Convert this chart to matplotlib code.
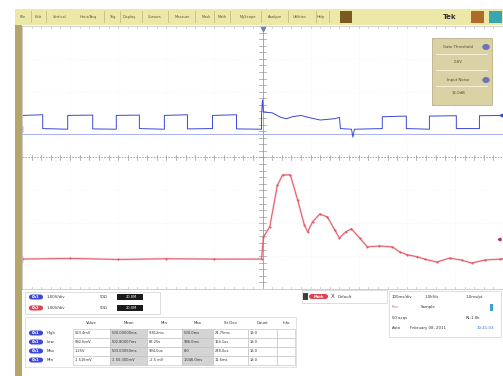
"""
Tek scope screenshot: Ch1 (blue) clock-like square wave, Ch2 (red) ringing response
after the trigger, with the measurement table along the bottom.
"""

import matplotlib
import matplotlib.pyplot as plt
from matplotlib.patches import Rectangle, FancyBboxPatch

matplotlib.use("Agg")

W, H = 503, 376

# ---- waveform data, in graticule divisions (x: -5..5, y: -4..4) ----
ch1_t = [-5.00, -4.57, -4.57, -4.05, -4.05, -3.53, -3.53, -3.04, -3.04, -2.56,
         -2.56, -2.04, -2.04, -1.56, -1.56, -1.04, -1.04, -0.54, -0.54, -0.02,
         -0.02, 0.00, 0.02, 0.20, 0.38, 0.50, 0.62, 0.80, 0.95, 1.20, 1.50,
         1.60, 1.62, 1.85, 1.88, 1.91, 2.49, 2.49, 2.99, 2.99, 3.47, 3.47,
         4.03, 4.03, 4.51, 4.51, 5.00]
ch1_v = [1.28, 1.30, 0.88, 0.86, 1.28, 1.29, 0.87, 0.86, 1.28, 1.29,
         0.88, 0.86, 1.28, 1.30, 0.87, 0.88, 1.28, 1.30, 0.87, 0.86,
         1.30, 1.75, 1.38, 1.36, 1.22, 1.18, 1.24, 1.28, 1.22, 1.14, 1.18,
         1.22, 0.88, 0.86, 0.62, 0.86, 0.88, 1.24, 1.26, 0.88, 0.86, 1.26,
         1.27, 0.88, 0.88, 1.27, 1.28]

ch2_t = [-5.00, -4.00, -3.00, -2.00, -1.00, -0.02, 0.02, 0.15, 0.31, 0.42,
         0.58, 0.73, 0.87, 0.94, 1.04, 1.19, 1.35, 1.50, 1.60, 1.73, 1.85,
         2.02, 2.18, 2.43, 2.70, 2.85, 3.01, 3.22, 3.37, 3.62, 3.89, 4.14,
         4.35, 4.62, 4.93, 5.00]
ch2_v = [-3.09, -3.07, -3.10, -3.08, -3.09, -3.09, -2.42, -2.11, -0.84, -0.53,
         -0.53, -1.29, -2.05, -2.26, -1.96, -1.72, -1.81, -2.20, -2.45, -2.26,
         -2.17, -2.45, -2.72, -2.69, -2.72, -2.87, -2.96, -3.02, -3.09, -3.18,
         -3.06, -3.12, -3.21, -3.12, -3.09, -3.08]

ch1_ref = 0.72        # light blue reference level
ch1_marker = 0.87     # ground marker "1"
ch2_marker = -3.09    # ground marker "2"
ch2_level = -2.48     # small level arrow at right

menu_items = ["File", "Edit", "Vertical", "Horiz/Acq", "Trig", "Display", "Cursors",
              "Measure", "Mask", "Math", "MyScope", "Analyze", "Utilities", "Help"]
menu_x = [23, 38, 60, 88, 112, 129, 155, 182, 206, 222, 248, 275, 300, 321]

meas_cols = ["Value", "Mean", "Min", "Max", "St Dev", "Count", "Info"]
meas_labels = ["High", "Low", "Max", "Min"]
meas_rows = [
    ["523.4mV", "500.00000ms", "9.812ms", "500.0ms", "24.75ms", "18.0", ""],
    ["992.6mV", "502.80007ms", "87.25s", "996.0ms", "164.1us", "18.0", ""],
    ["1.25V", "503.00050ms", "994.0us", "8.0", "248.0us", "18.0", ""],
    ["-1.516mV", "-1.50.300mV", "-2.5 mV", "1.046.0ms", "11.6ms", "18.0", ""],
]

BLUE = "#3c48d8"
RED = "#e8606c"
OLIVE = "#b4a66a"
MENU = "#ece8a8"


def fx(x):
    return x / W


def fy(y):
    return 1 - y / H


def prect(fig, x0, y0, x1, y1, **kw):
    fig.patches.append(Rectangle((fx(x0), fy(y1)), (x1 - x0) / W, (y1 - y0) / H,
                                 transform=fig.transFigure, **kw))


def pill(fig, x0, y, w, color, label):
    fig.patches.append(FancyBboxPatch((fx(x0), fy(y + 2.5)), w / W, 5 / H,
                                      boxstyle="round,pad=0,rounding_size=0.006",
                                      transform=fig.transFigure, color=color, lw=0))
    fig.text(fx(x0 + w / 2), fy(y), label, fontsize=2.6, color="white",
             ha="center", va="center", weight="bold")


def ptext(fig, x, y, s, size=3.4, **kw):
    kw.setdefault("va", "center")
    fig.text(fx(x), fy(y), s, fontsize=size, **kw)


fig = plt.figure(figsize=(W / 100, H / 100), dpi=100, facecolor="white")

# ---- menu bar & side stripe ----
prect(fig, 15, 9, 503, 25, color=MENU, lw=0)
for name, x in zip(menu_items, menu_x):
    ptext(fig, x, 17, name, size=2.6, color="#55553a", ha="center")
    prect(fig, x + len(name) * 1.6 + 2, 11, x + len(name) * 1.6 + 2.5, 23, color="#c8c490", lw=0)
prect(fig, 340, 11, 352, 23, color="#7a5a20", lw=0)
ptext(fig, 450, 17, "Tek", size=5, color="#333333", ha="center", weight="bold")
prect(fig, 471, 11, 484, 23, color="#b06a2a", lw=0)
prect(fig, 489, 11, 502, 23, color="#3aa6b0", lw=0)
prect(fig, 15, 25, 22, 376, color=OLIVE, lw=0)

# ---- graticule ----
ax = fig.add_axes([fx(22), fy(289), (503 - 22) / W, (289 - 26) / H])
ax.set_xlim(-5, 5)
ax.set_ylim(-4, 4)
for s in ax.spines.values():
    s.set_color("#c8c8c8")
    s.set_linewidth(0.6)
ax.set_xticks([])
ax.set_yticks([])
for gx in range(-4, 5):
    if gx != 0:
        ax.axvline(gx, color="#ececec", lw=0.5, ls=(0, (1, 3)))
for gy in range(-3, 4):
    if gy != 0:
        ax.axhline(gy, color="#ececec", lw=0.5, ls=(0, (1, 3)))
ax.axvline(0, color="#9a9a9a", lw=0.6)
ax.axhline(0, color="#9a9a9a", lw=0.6, ls=(0, (2, 1.5)))
for i in range(-25, 26):
    t = i / 5
    ax.plot([t, t], [-0.07, 0.07], color="#9a9a9a", lw=0.5)
    ax.plot([t, t], [3.94, 4.0], color="#c0c0c0", lw=0.5)
    ax.plot([t, t], [-4.0, -3.94], color="#c0c0c0", lw=0.5)
for i in range(-20, 21):
    v = i / 5
    ax.plot([-0.07, 0.07], [v, v], color="#9a9a9a", lw=0.5)

ax.axhline(ch1_ref, color="#9aa6f2", lw=0.6)
ax.plot(ch1_t, ch1_v, color=BLUE, lw=0.7)
ax.plot(ch2_t, ch2_v, color=RED, lw=1.5, alpha=0.35, solid_capstyle="round")
ax.plot(ch2_t, ch2_v, color="#e04a5a", lw=0.55, marker=".", markersize=1.0)

# trigger marker, ground markers, level arrows
ax.plot([0], [3.92], marker="v", color="#7080b0", markersize=3, clip_on=False)
ax.plot([-5.06], [ch1_marker], marker="s", color=BLUE, markersize=4, clip_on=False)
ax.text(-5.06, ch1_marker, "1", fontsize=2.6, color="white", ha="center", va="center")
ax.plot([-5.06], [ch2_marker], marker="s", color="#e04050", markersize=4, clip_on=False)
ax.text(-5.06, ch2_marker, "2", fontsize=2.6, color="white", ha="center", va="center")
ax.plot([4.92], [ch2_level], marker="<", color="#c03040", markersize=2, clip_on=False)
ax.plot([4.95], [1.28], marker="<", color=BLUE, markersize=2, clip_on=False)

# ---- measurement setup box (top right) ----
prect(fig, 432, 38, 492, 105, facecolor="#dad2a4", edgecolor="#b9b08a", lw=0.6)
ptext(fig, 458, 47, "Gate Threshold", size=2.8, color="#4a4a30", ha="center")
fig.patches.append(plt.Circle((fx(486), fy(47)), 3 / W, transform=fig.transFigure, color="#7070b8"))
prect(fig, 436, 54, 488, 54.5, color="#f4f0d8", lw=0)
ptext(fig, 458, 62, "0.0V", size=2.8, color="#4a4a30", ha="center")
prect(fig, 436, 70, 488, 70.5, color="#f4f0d8", lw=0)
ptext(fig, 458, 80, "Input Noise", size=2.8, color="#4a4a30", ha="center")
fig.patches.append(plt.Circle((fx(486), fy(80)), 3 / W, transform=fig.transFigure, color="#7070b8"))
prect(fig, 436, 86, 488, 86.5, color="#f4f0d8", lw=0)
ptext(fig, 458, 93, "15.0dB", size=2.8, color="#4a4a30", ha="center")

# ---- bottom panel: channel readouts ----
prect(fig, 25, 292, 160, 314, facecolor="white", edgecolor="#cfcfcf", lw=0.5)
for y, col, lab in [(297, BLUE, "Ch1"), (308, "#e04050", "Ch2")]:
    pill(fig, 29, y, 14, col, lab)
    ptext(fig, 47, y, "1.00V/div", size=2.8, color="#333333")
    ptext(fig, 100, y, "50\u03a9", size=2.8, color="#333333")
    prect(fig, 117, y - 3, 143, y + 3, color="#1a1a1a", lw=0)
    ptext(fig, 131, y, "20.0M", size=2.6, color="white", ha="center")

# measurement table
col_x = [73, 110, 147, 182, 213, 248, 277, 295]
prect(fig, 25, 317, 296, 367, facecolor="white", edgecolor="#d8d8d8", lw=0.5)
for c, name in enumerate(meas_cols):
    ptext(fig, (col_x[c] + col_x[c + 1]) / 2, 323, name, size=2.8,
          color="#333333", ha="center")
for r, (lab, row) in enumerate(zip(meas_labels, meas_rows)):
    y = 333 + r * 9
    pill(fig, 29, y, 14, BLUE, "Ch1")
    ptext(fig, 47, y, lab, size=2.8, color="#333333")
    for c, val in enumerate(row):
        shade = "#d4d4d4" if c in (1, 3) else "white"
        prect(fig, col_x[c], y - 4.5, col_x[c + 1], y + 4.5, facecolor=shade,
              edgecolor="#bcbcbc", lw=0.4)
        ptext(fig, col_x[c] + 2, y, val, size=2.6, color="#333333")

# math / default box
prect(fig, 302, 290, 387, 303, facecolor="white", edgecolor="#cfcfcf", lw=0.5)
prect(fig, 303, 293, 308, 300, color="#404040", lw=0)
pill(fig, 309, 296.5, 19, "#e04050", "Math")
ptext(fig, 333, 296.5, "X", size=4, color="#333333", ha="center")
ptext(fig, 338, 296.5, "Default", size=2.8, color="#333333")

# acquisition / timebase info
prect(fig, 389, 291, 501, 337, facecolor="white", edgecolor="#d8d8d8", lw=0.6)
ptext(fig, 392, 297, "100ms/div", size=2.8, color="#333333")
ptext(fig, 425, 297, "1.0kS/s", size=2.8, color="#333333")
ptext(fig, 466, 297, "1.0ms/pt", size=2.8, color="#333333")
ptext(fig, 392, 307, "Run", size=2.8, color="#e07080")
ptext(fig, 421, 307, "Sample", size=2.8, color="#333333")
prect(fig, 490, 304, 493, 311, color="#40a0d0", lw=0)
ptext(fig, 392, 318, "50 acqs", size=2.8, color="#333333")
ptext(fig, 466, 318, "RL:1.0k", size=2.8, color="#333333")
ptext(fig, 392, 328, "Auto", size=2.8, color="#333333")
ptext(fig, 410, 328, "February 08, 2011", size=2.8, color="#333333")
ptext(fig, 477, 328, "10:41:03", size=2.8, color="#3a6ad0")

fig.savefig("out.png", dpi=100)
